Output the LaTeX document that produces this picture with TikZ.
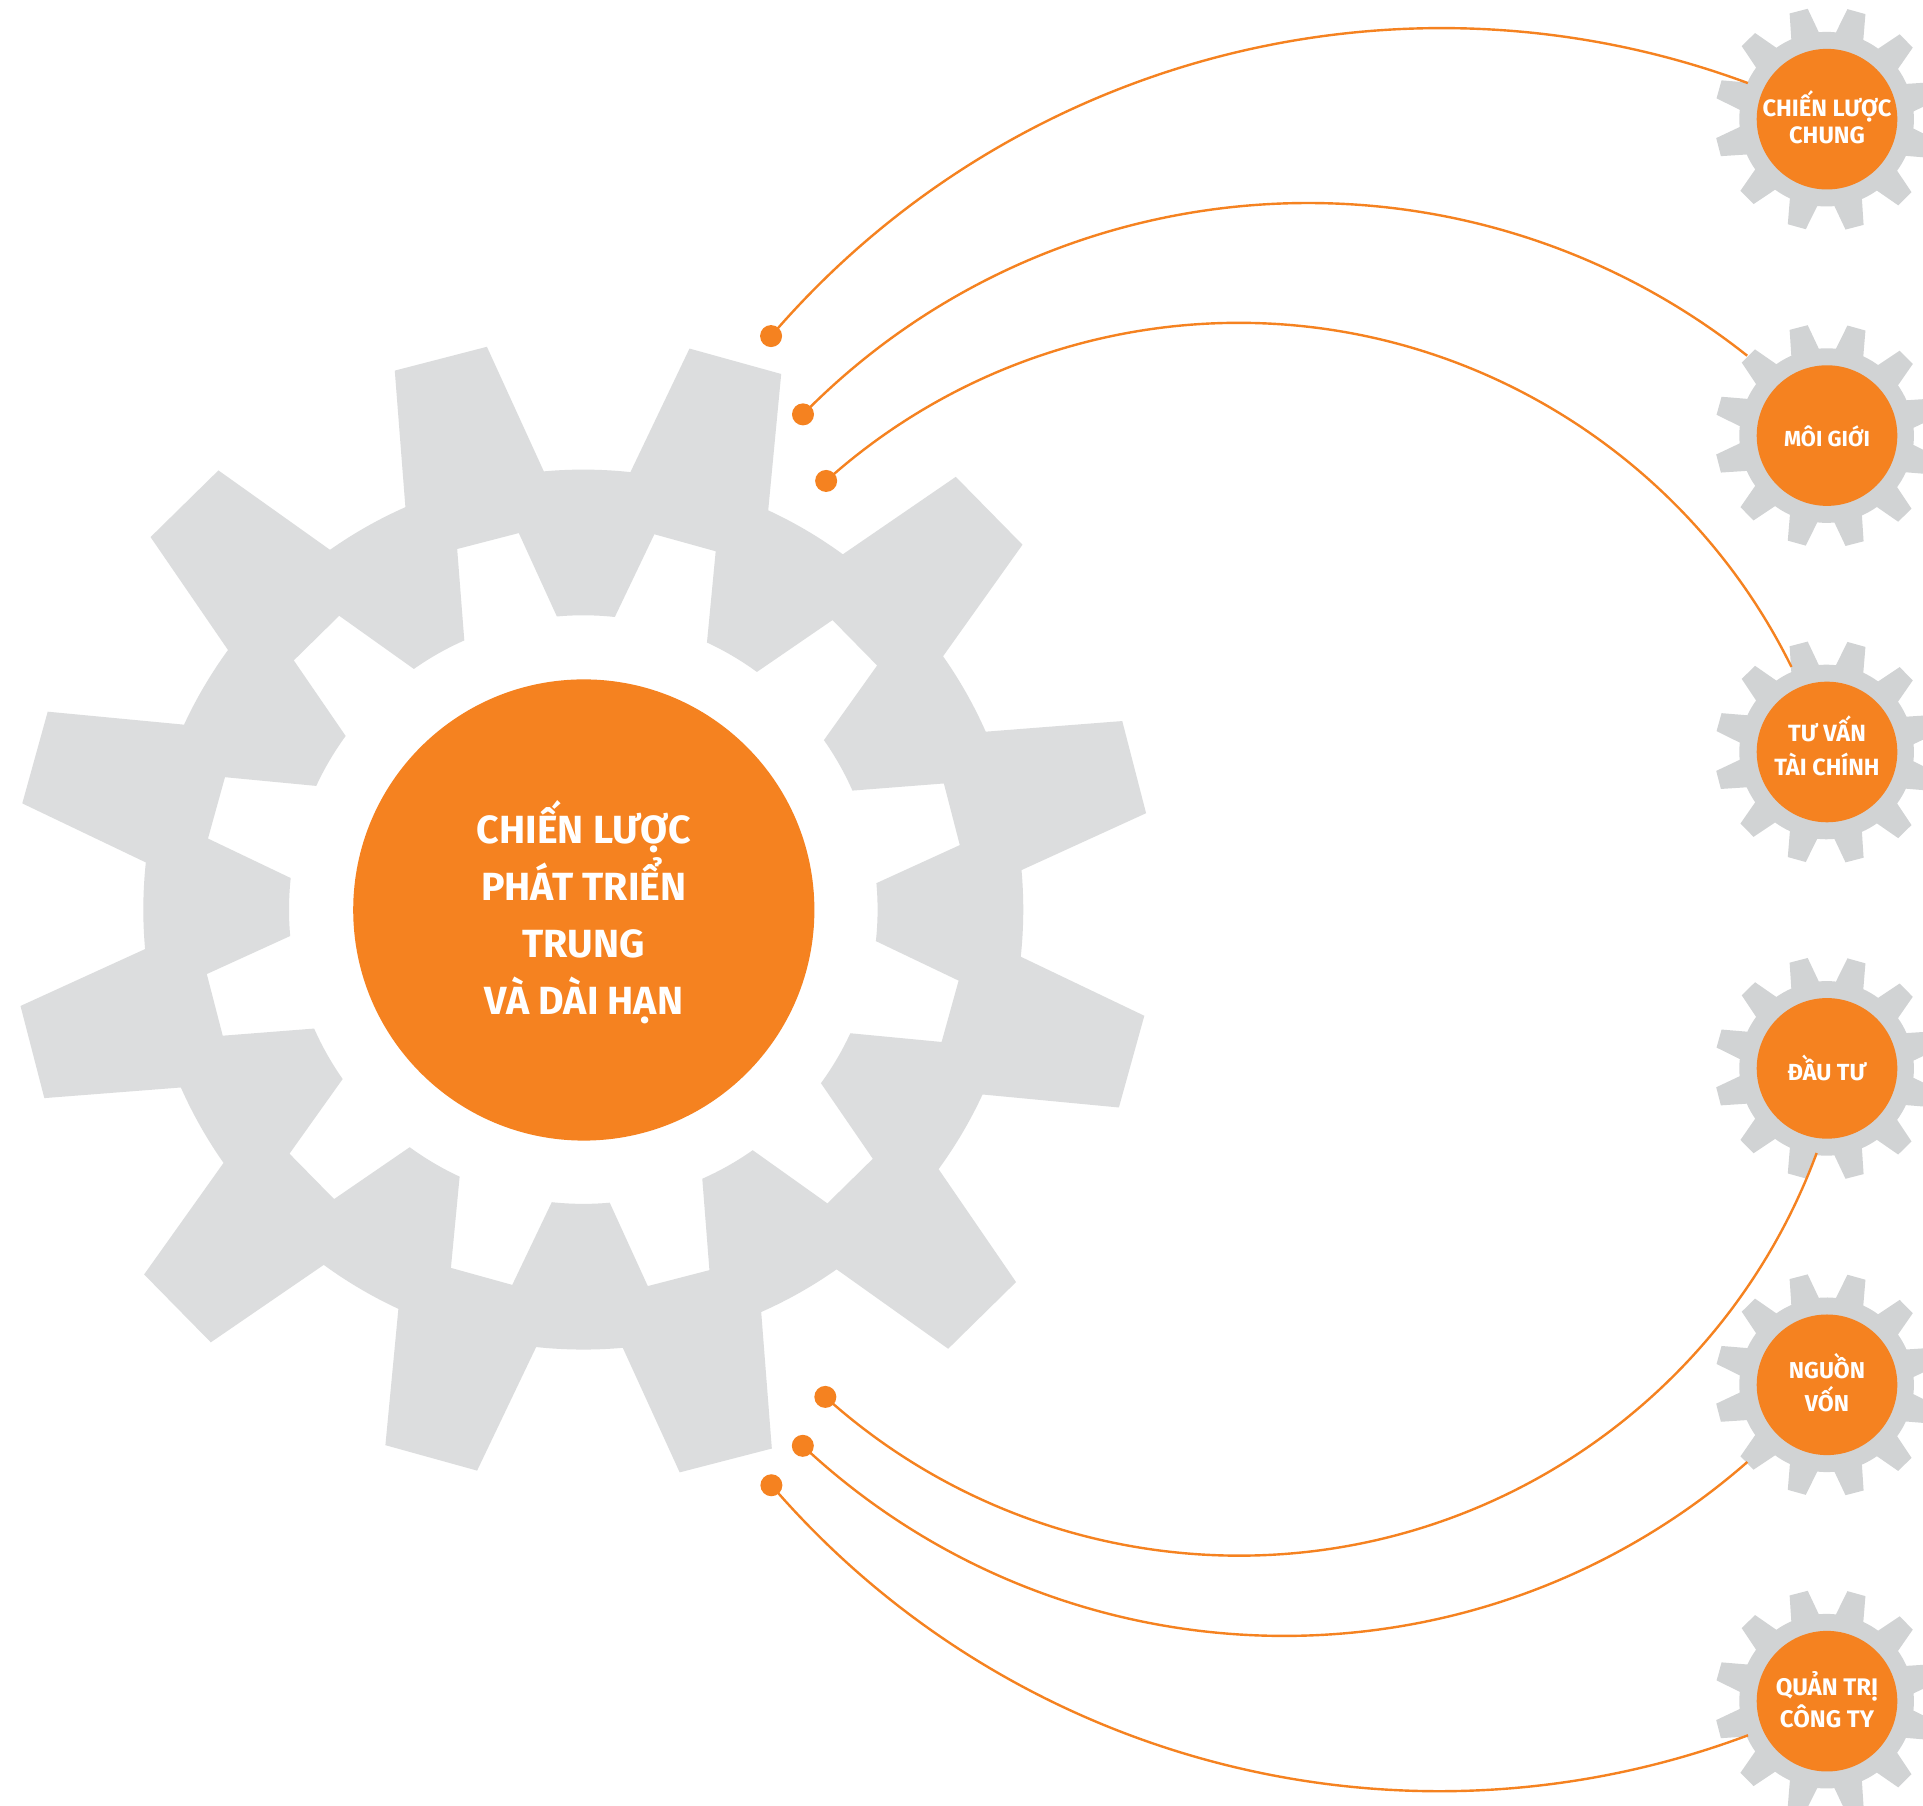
\documentclass[tikz,border=0pt]{standalone}
\usepackage{fontspec}
\setmainfont{Fira Sans}
\definecolor{brand}{HTML}{F58220}
\definecolor{gearbig}{HTML}{DCDDDE}
\definecolor{gearsmall}{HTML}{D1D3D4}
\newcommand\gearcontour[2]{%
  (5.15:#1) \foreach \k in {0,...,11} {
    -- ({14.5+30*\k-9.35}:#1) -- ({14.5+30*\k-4.78}:#2) -- ({14.5+30*\k+4.78}:#2) -- ({14.5+30*\k+9.35}:#1)
    arc[start angle={14.5+30*\k+9.35},delta angle=11.3,radius=#1]
  } -- cycle}
% raise, leading, size, lines separated by \cr
\newcommand\hubtext[4]{\raisebox{#1pt}[0pt][0pt]{\fontsize{#3}{#2}\selectfont\bfseries\vtop{\baselineskip=#2\lineskiplimit=-100pt\lineskip=0pt\relax\halign{\hfil##\hfil\cr #4\cr}}}}
\tikzset{
  x=1pt,y=1pt,
  bighub/.style={circle,fill=brand,text=white,inner sep=0pt,minimum size=461.2pt},
  smallhub/.style={circle,fill=brand,text=white,inner sep=0pt,minimum size=140.6pt},
  pin/.style={circle,fill=brand,inner sep=0pt,minimum size=22pt},
  link/.style={draw=brand,line width=2.4pt},
}
\begin{document}
\begin{tikzpicture}
\clip[use as bounding box] (0,0) rectangle (1923,1806);
\fill[white] (0,0) rectangle (1923,1806);
% large gear
\fill[gearbig,even odd rule,shift={(583.3,896.4)}] \gearcontour{440}{571} \gearcontour{294.3}{382};
\node[bighub] (main) at (583.8,896) {\hubtext{66.7}{57pt}{39.3pt}{CHIẾN LƯỢC\cr PHÁT TRIỂN\cr TRUNG\cr VÀ DÀI HẠN}};
% small gears
\foreach \yy in {1686.8,1370.4,1054,737.6,421.2,104.8}{
  \fill[gearsmall,shift={(1826.6,\yy)}] \gearcontour{87.3}{112};
}
\node[smallhub] (g1) at (1827,1686.8) {\hubtext{2.5}{27.3pt}{23.7pt}{CHIẾN LƯỢC\cr CHUNG}};
\node[smallhub] (g2) at (1827,1370.4) {\hubtext{-11.2}{27pt}{21.8pt}{MÔI GIỚI}};
\node[smallhub] (g3) at (1827,1054) {\hubtext{10.6}{34pt}{23.5pt}{TƯ VẤN\cr TÀI CHÍNH}};
\node[smallhub] (g4) at (1827,737.6) {\hubtext{-12.3}{27pt}{23.3pt}{ĐẦU TƯ}};
\node[smallhub] (g5) at (1827,421.2) {\hubtext{6.2}{33pt}{23pt}{NGUỒN\cr VỐN}};
\node[smallhub] (g6) at (1827,104.8) {\hubtext{5.5}{31.6pt}{24pt}{QUẢN TRỊ\cr CÔNG TY}};
% end points on gears
\coordinate (d1c) at ([shift={(1441,895.5)}]139.39:882.5);
\coordinate (e1) at ([shift={(1441,895.5)}]69.65:882.5);
\coordinate (d2c) at ([shift={(1307.7,896)}]135.52:707.4);
\coordinate (e2) at ([shift={(1307.7,896)}]51.59:707.4);
\coordinate (d3c) at ([shift={(1238.4,866.7)}]131.97:616.5);
\coordinate (m3) at ([shift={(1238.4,866.7)}]79.1:616.5);
\coordinate (e3) at ([shift={(1238.4,866.7)}]26.22:616.5);
\coordinate (d4c) at ([shift={(1238.4,866.7)}]227.93:616.5);
\coordinate (m4) at ([shift={(1238.4,866.7)}]283.82:616.5);
\coordinate (e4) at ([shift={(1238.4,866.7)}]339.71:616.5);
\coordinate (d5c) at ([shift={(1284,874)}]226.88:704);
\coordinate (e5) at ([shift={(1284,874)}]311.16:704);
\coordinate (d6c) at ([shift={(1439,896)}]220.75:881.3);
\coordinate (e6) at ([shift={(1439,896)}]290.53:881.3);
\node[pin] (d1) at (d1c) {};
\node[pin] (d2) at (d2c) {};
\node[pin] (d3) at (d3c) {};
\node[pin] (d4) at (d4c) {};
\node[pin] (d5) at (d5c) {};
\node[pin] (d6) at (d6c) {};
% connectors
\draw[link] (d1.center) to[out=49.39,in=159.65,looseness=0.935] (e1);
\draw[link] (d2.center) to[out=45.52,in=141.59,looseness=0.9764] (e2);
\draw[link] (d3.center) to[out=41.97,in=169.1,looseness=0.8984] (m3) to[out=-10.9,in=116.22,looseness=0.8984] (e3);
\draw[link] (d4.center) to[out=317.93,in=193.82,looseness=0.904] (m4) to[out=13.82,in=249.71,looseness=0.904] (e4);
\draw[link] (d5.center) to[out=316.88,in=221.16,looseness=0.9777] (e5);
\draw[link] (d6.center) to[out=310.75,in=200.53,looseness=0.935] (e6);
\end{tikzpicture}
\end{document}
